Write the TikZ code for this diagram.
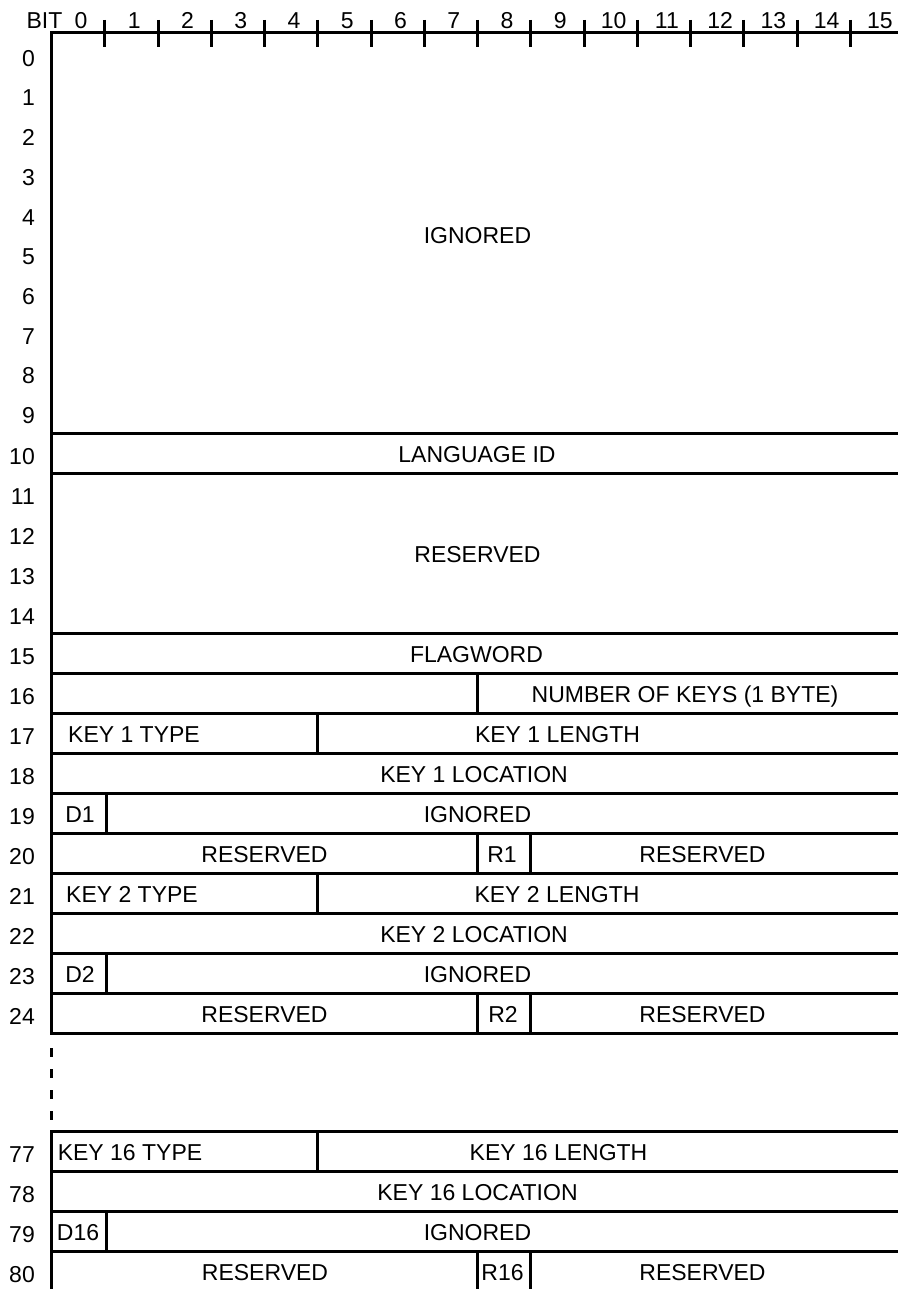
\documentclass[tikz,border=0pt]{standalone}
\usepackage{fontspec}
\setmainfont{Liberation Sans}
\begin{document}
\begin{tikzpicture}[x=1pt,y=-1pt,
  rule/.style={line width=3pt},
  txt/.style={font=\fontsize{23}{23}\selectfont, inner sep=0pt, text height=16.5pt, text depth=0pt},
  num/.style={txt, anchor=east}]
\useasboundingbox (0,0) rectangle (897,1289);
% ---- ruler and frame ----
\draw[rule, line cap=rect] (51.5,1033) -- (51.5,33) -- (900,33);
\foreach \k in {1,...,15} \draw[rule] ({51.5+53.25*\k},20) -- ({51.5+53.25*\k},47);
\node[txt] (bit) at (44.5,20) {BIT};
\foreach \k in {0,...,15} \node[txt] (b\k) at ({51.5+53.25*(\k+0.5)+3},20) {\k};
% ---- row numbers ----
\foreach \r in {0,...,9} \node[num] (r\r) at (35,{58+39.7*\r}) {\r};
\foreach \r in {10,...,24} \node[num] (r\r) at (35,{56+40*\r}) {\r};
\foreach \r in {77,...,80} \node[num] (r\r) at (35,{1154+40*(\r-77)}) {\r};
% ---- horizontal rules ----
\foreach \y in {433,473} \draw[rule] (51.5,\y) -- (900,\y);
\foreach \y in {633,673,...,1033} \draw[rule] (51.5,\y) -- (900,\y);
\foreach \y in {1131,1171,1211,1251} \draw[rule] (51.5,\y) -- (900,\y);
% ---- left edge: gap and lower part ----
\draw[rule, dash pattern=on 9pt off 12pt] (51.5,1048) -- (51.5,1122);
\draw[rule, line cap=rect] (51.5,1131) -- (51.5,1295);
% ---- field dividers ----
\draw[rule] (477.5,673) -- (477.5,713);
\foreach \y in {713,873,1131} \draw[rule] (317.5,\y) -- (317.5,\y+40);
\foreach \y in {793,953,1211} \draw[rule] (106,\y) -- (106,\y+40);
\foreach \y in {833,993,1251} {
  \draw[rule] (477.5,\y) -- (477.5,\y+40);
  \draw[rule] (530.5,\y) -- (530.5,\y+40);
}
% ---- field labels ----
\node[txt] (ign0) at (477.5,235) {IGNORED};
\node[txt] (lang) at (477,454) {LANGUAGE ID};
\node[txt] (res0) at (477.5,554) {RESERVED};
\node[txt] (flag) at (476.5,654) {FLAGWORD};
\node[txt] (nkeys) at (685,694) {NUMBER OF KEYS (1 BYTE)};
\node[txt] (k1t) at (134,734) {KEY 1 TYPE};
\node[txt] (k1l) at (557.5,734) {KEY 1 LENGTH};
\node[txt] (k1loc) at (474,774) {KEY 1 LOCATION};
\node[txt] (d1) at (80,814) {D1};
\node[txt] (ign1) at (477.5,814) {IGNORED};
\node[txt] (res1a) at (264.5,854) {RESERVED};
\node[txt] (r1) at (502,854) {R1};
\node[txt] (res1b) at (702.5,854) {RESERVED};
\node[txt] (k2t) at (132,894) {KEY 2 TYPE};
\node[txt] (k2l) at (557,894) {KEY 2 LENGTH};
\node[txt] (k2loc) at (474,934) {KEY 2 LOCATION};
\node[txt] (d2) at (80,974) {D2};
\node[txt] (ign2) at (477.5,974) {IGNORED};
\node[txt] (res2a) at (264.5,1014) {RESERVED};
\node[txt] (r2) at (503,1014) {R2};
\node[txt] (res2b) at (702.5,1014) {RESERVED};
\node[txt] (k16t) at (130,1152) {KEY 16 TYPE};
\node[txt] (k16l) at (558.5,1152) {KEY 16 LENGTH};
\node[txt] (k16loc) at (477.5,1192) {KEY 16 LOCATION};
\node[txt] (d16) at (78,1232) {D16};
\node[txt] (ign16) at (477.5,1232) {IGNORED};
\node[txt] (res16a) at (265,1272) {RESERVED};
\node[txt] (r16) at (502.5,1272) {R16};
\node[txt] (res16b) at (702.5,1272) {RESERVED};
\end{tikzpicture}
\end{document}
